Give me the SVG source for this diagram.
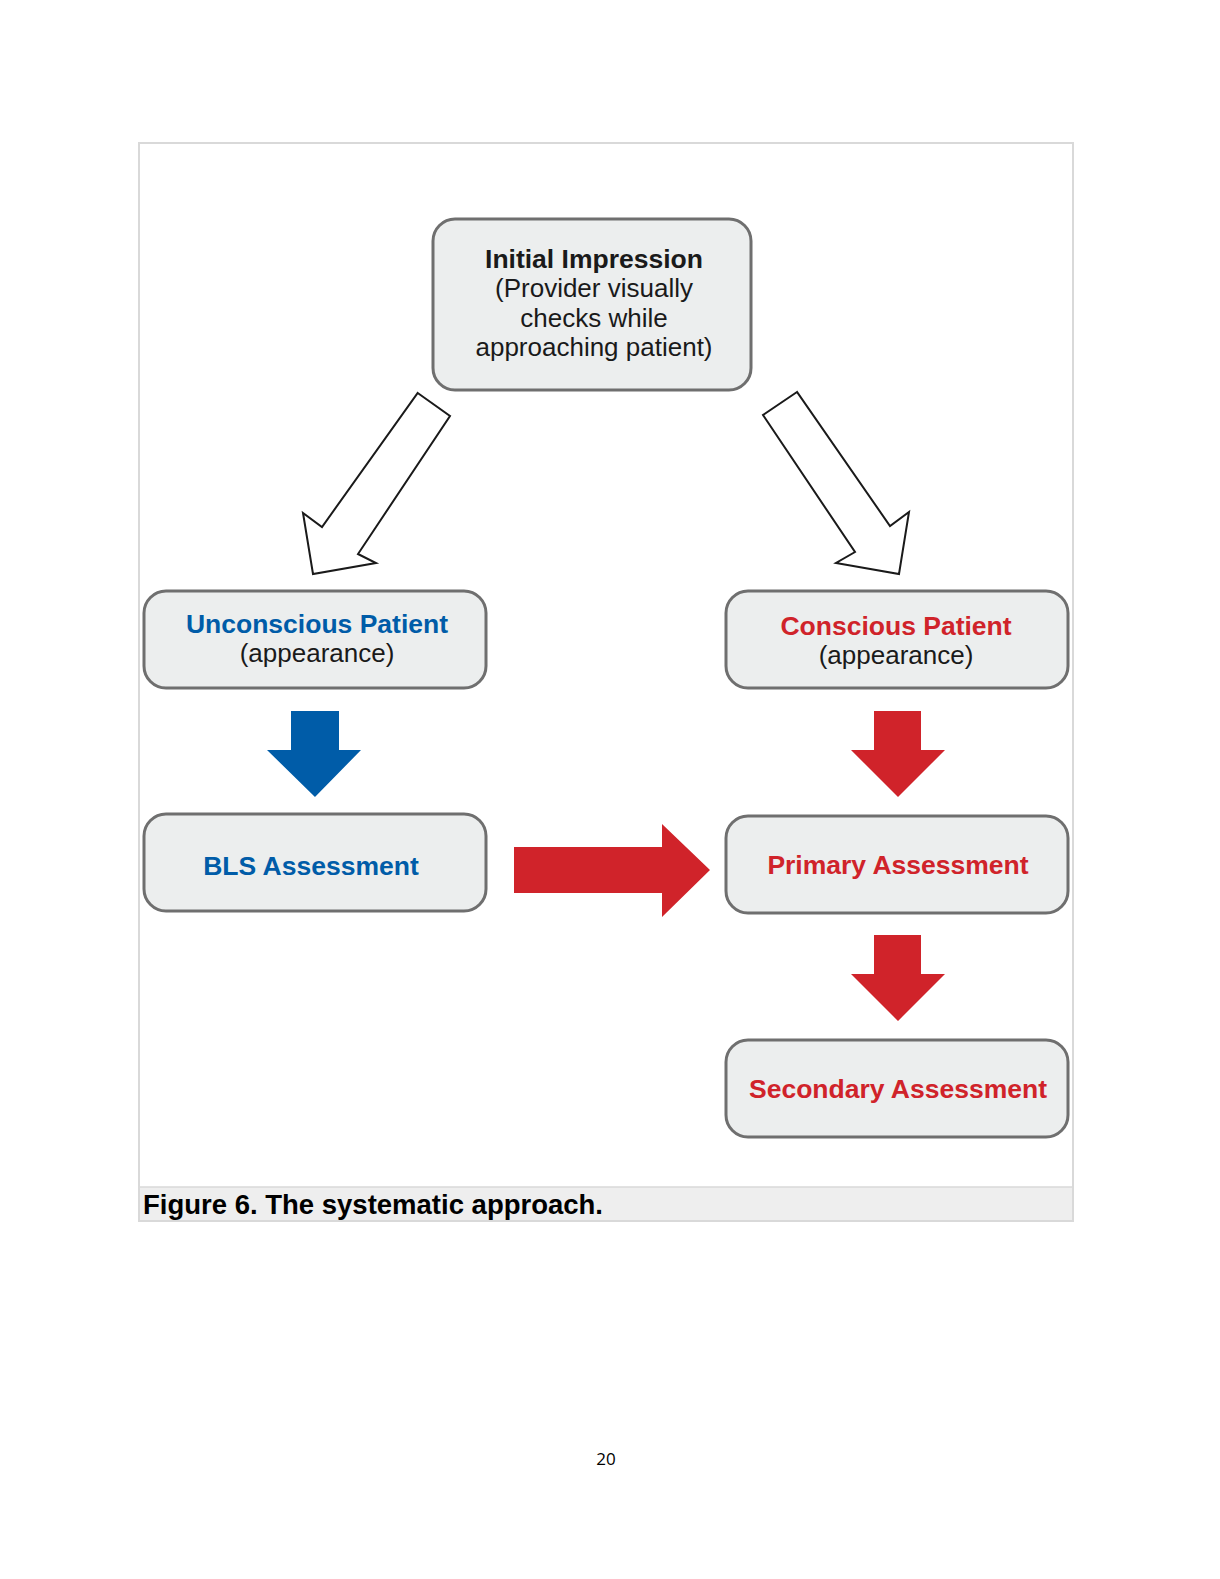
<svg xmlns="http://www.w3.org/2000/svg" width="1220" height="1579" viewBox="0 0 1220 1579">
<style>
.box{fill:#eceeee;stroke:#6f6f6f;stroke-width:3}
.t{font-family:"Liberation Sans",Arial,sans-serif;font-size:26px;text-anchor:middle}
.b{font-weight:bold;font-size:26.5px}
.blk{fill:#1a1a1a}
.blue{fill:#005ca8}
.red{fill:#d0232a}
.hollow{fill:#ffffff;stroke:#1a1a1a;stroke-width:2;stroke-linejoin:miter}
</style>
<rect x="0" y="0" width="1220" height="1579" fill="#ffffff"/>
<rect x="139" y="143" width="934" height="1078" fill="#ffffff" stroke="#d9d9d9" stroke-width="2"/>
<rect x="140" y="1187" width="932" height="33" fill="#eeeeee"/>
<line x1="140" y1="1187" x2="1072" y2="1187" stroke="#d9d9d9" stroke-width="1.5"/>
<text x="143" y="1214" font-family="&quot;Liberation Sans&quot;,Arial,sans-serif" font-size="27.5" font-weight="bold" fill="#000000">Figure 6. The systematic approach.</text>
<text x="606" y="1465" font-family="&quot;Open Sans&quot;,&quot;Liberation Sans&quot;,sans-serif" font-size="17" text-anchor="middle" fill="#000000">20</text>

<g id="initial">
<rect class="box" x="433" y="219" width="318" height="171" rx="22"/>
<text class="t b blk" x="594" y="268">Initial Impression</text>
<text class="t blk" x="594" y="297">(Provider visually</text>
<text class="t blk" x="594" y="327">checks while</text>
<text class="t blk" x="594" y="356">approaching patient)</text>
</g>
<g id="unconscious">
<rect class="box" x="144" y="591" width="342" height="97" rx="22"/>
<text class="t b blue" x="317" y="633">Unconscious Patient</text>
<text class="t blk" x="317" y="662">(appearance)</text>
</g>
<g id="conscious">
<rect class="box" x="726" y="591" width="342" height="97" rx="22"/>
<text class="t b red" x="896" y="635">Conscious Patient</text>
<text class="t blk" x="896" y="664">(appearance)</text>
</g>
<g id="bls">
<rect class="box" x="144" y="814" width="342" height="97" rx="22"/>
<text class="t b blue" x="311" y="875">BLS Assessment</text>
</g>
<g id="primary">
<rect class="box" x="726" y="816" width="342" height="97" rx="22"/>
<text class="t b red" x="898" y="874">Primary Assessment</text>
</g>
<g id="secondary">
<rect class="box" x="726" y="1040" width="342" height="97" rx="22"/>
<text class="t b red" x="898" y="1098">Secondary Assessment</text>
</g>

<g id="connectors">
<polygon class="hollow" points="417.7,393 450,416 358,554 376,563 313,574 303,513 322,527"/>
<polygon class="hollow" points="797,392 763,415 855,552 836,563 899,574 909,512 890,526"/>
<polygon class="blue" points="291,711 339,711 339,750 361,750 315,797 267,750 291,750"/>
<polygon class="red" points="874,711 921,711 921,750 945,750 898,797 851,750 874,750"/>
<polygon class="red" points="874,935 921,935 921,974 945,974 898,1021 851,974 874,974"/>
<polygon class="red" points="514,847 662,847 662,824 710,870 662,917 662,893 514,893"/>
</g>
</svg>
